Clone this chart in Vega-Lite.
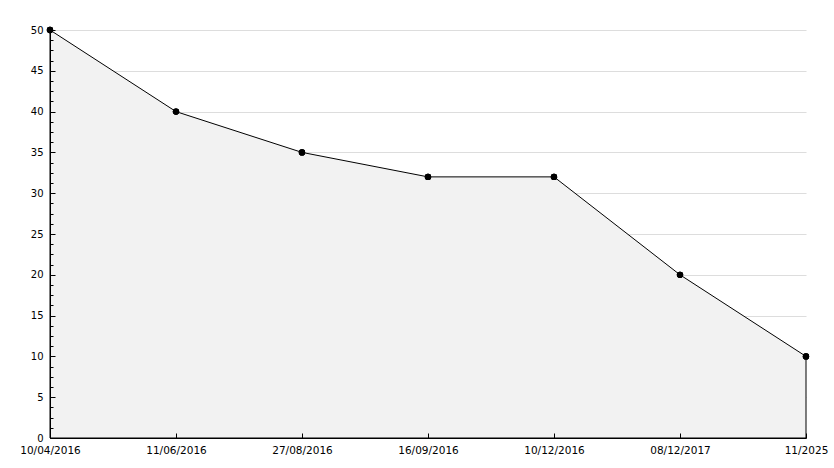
{
  "$schema": "https://vega.github.io/schema/vega-lite/v6.json",
  "width": 756,
  "height": 408,
  "autosize": {"type": "none"},
  "padding": {"left": 50, "top": 30, "right": 28, "bottom": 30},
  "background": "white",
  "config": {
    "view": {"stroke": null},
    "font": "DejaVu Sans",
    "axis": {"labelFont": "DejaVu Sans", "labelFontSize": 10, "labelColor": "black", "domainColor": "black", "tickColor": "black", "title": null}
  },
  "data": {
    "values": [
      {"date": "10/04/2016", "value": 50},
      {"date": "11/06/2016", "value": 40},
      {"date": "27/08/2016", "value": 35},
      {"date": "16/09/2016", "value": 32},
      {"date": "10/12/2016", "value": 32},
      {"date": "08/12/2017", "value": 20},
      {"date": "11/2025", "value": 10}
    ]
  },
  "encoding": {
    "x": {
      "field": "date", "type": "ordinal", "sort": null,
      "scale": {"type": "point", "padding": 0},
      "axis": {"title": null, "labelAngle": 0, "labelFontSize": 10.5, "tickSize": -5, "labelPadding": 12, "domainColor": "black", "zindex": 2, "grid": false, "labelBaseline": "top"}
    }
  },
  "layer": [
    {
      "mark": {"type": "area", "fill": "#f2f2f2", "stroke": "black", "strokeWidth": 1, "interpolate": "linear"},
      "encoding": {
        "y": {"field": "value", "type": "quantitative", "scale": {"domain": [0, 50], "nice": false},
          "axis": {"orient": "left", "zindex": 0, "grid": true, "gridColor": "#dddddd", "domain": false, "ticks": false, "labels": false, "values": [0,5,10,15,20,25,30,35,40,45,50]}}
      }
    },
    {
      "mark": {"type": "point", "filled": true, "color": "black", "size": 40, "opacity": 1},
      "encoding": {
        "y": {"field": "value", "type": "quantitative", "scale": {"domain": [0, 50], "nice": false},
          "axis": {"orient": "left", "zindex": 2, "grid": false, "domain": true, "ticks": false, "labels": true, "labelPadding": 7, "values": [0,5,10,15,20,25,30,35,40,45,50]}}
      }
    },
    {
      "mark": {"type": "point", "filled": true, "color": "black", "size": 40, "opacity": 1},
      "encoding": {
        "y": {"field": "value", "type": "quantitative", "scale": {"domain": [0, 50], "nice": false},
          "axis": {"orient": "left", "zindex": 2, "grid": false, "domain": false, "ticks": true, "tickSize": -5, "labels": false, "values": [0,5,10,15,20,25,30,35,40,45,50]}}
      }
    },
    {
      "mark": {"type": "point", "filled": true, "color": "black", "size": 40, "opacity": 1},
      "encoding": {
        "y": {"field": "value", "type": "quantitative", "scale": {"domain": [0, 50], "nice": false},
          "axis": {"orient": "left", "zindex": 2, "grid": false, "domain": false, "ticks": true, "tickSize": -3, "labels": false, "values": [1.25,2.5,3.75,6.25,7.5,8.75,11.25,12.5,13.75,16.25,17.5,18.75,21.25,22.5,23.75,26.25,27.5,28.75,31.25,32.5,33.75,36.25,37.5,38.75,41.25,42.5,43.75,46.25,47.5,48.75]}}
      }
    }
  ],
  "resolve": {"axis": {"y": "independent"}}
}
